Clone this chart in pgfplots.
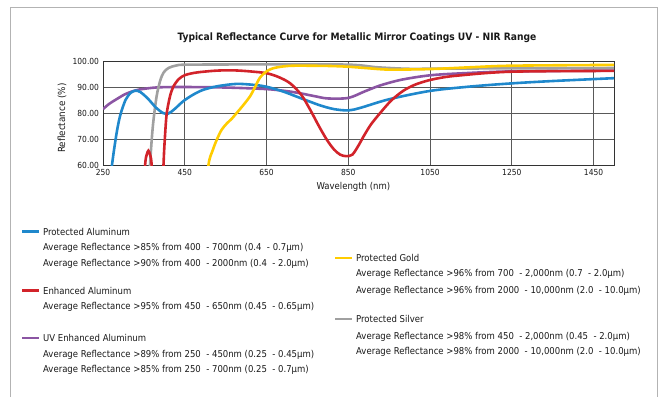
\documentclass[border=0pt]{standalone}
\usepackage{fontspec}
\setmainfont{DejaVu Sans Condensed}[BoldFont={DejaVu Sans Condensed Bold}]
\usepackage{pgfplots}
\pgfplotsset{compat=1.18}
\definecolor{cblue}{RGB}{31,136,204}
\definecolor{cred}{RGB}{210,35,42}
\definecolor{cpurple}{RGB}{139,85,163}
\definecolor{cyellow}{RGB}{255,204,0}
\definecolor{cgray}{RGB}{160,160,160}
\definecolor{ctext}{RGB}{25,25,25}
\begin{document}
\begin{tikzpicture}[x=1bp,y=1bp]
\useasboundingbox (0,0) rectangle (661,-397);
\draw[cgray!80, line width=1bp] (10,-397) -- (10,-7) -- (657,-7) -- (657,-397);
\begin{axis}[
  at={(103bp,-165bp)}, anchor=south west,
  scale only axis, width=511bp, height=104bp,
  xmin=250, xmax=1500, ymin=60, ymax=100,
  xtick={250,450,650,850,1050,1250,1450},
  ytick={60,70,80,90,100},
  major tick length=0pt,
  grid=major,
  grid style={line width=0.9bp, black!65},
  axis line style={line width=1bp, black!80},
  /pgf/number format/assume math mode=true,
  /pgf/number format/set thousands separator={},
  yticklabel={\pgfmathprintnumber[fixed,fixed zerofill,precision=2]{\tick}},
  xticklabel style={font=\fontsize{8.4}{9}\selectfont, text=ctext, yshift=-0.5bp},
  yticklabel style={font=\fontsize{8.4}{9}\selectfont, text=ctext, xshift=-0.5bp},
  title={Typical Reflectance Curve for Metallic Mirror Coatings UV - NIR Range},
  title style={font=\bfseries\fontsize{10.2}{11}\selectfont, text=ctext, at={(axis description cs:0.497,1.0)}, anchor=center, yshift=17bp},
  xlabel={Wavelength (nm)},
  xlabel style={font=\fontsize{9.5}{10}\selectfont, text=ctext, at={(axis description cs:0.49,-0.21)}, anchor=center},
  ylabel={Reflectance (\%)},
  ylabel style={font=\fontsize{9.8}{10}\selectfont, text=ctext, at={(axis description cs:-0.08,0.45)}, anchor=center, rotate=0},
  every axis plot/.append style={line width=2.6bp, smooth},
]
% UV Enhanced Aluminum
\addplot[cpurple] coordinates {(250,81.5) (265,83.5) (283,85.3) (305,87.3) (332,88.8) (360,89.5) (390,89.9) (450,90) (550,89.8) (650,89.2) (700,88.4) (732,87.6) (770,86.4) (800,85.6) (850,85.8) (890,88.3) (928,90.6) (980,92.8) (1050,94.5) (1132,95.3) (1250,96.0) (1500,96.3)};
% Protected Silver
\addplot[cgray] coordinates {(355,30) (365,60) (372,75) (381,86.3) (390,92.5) (398,95.5) (410,97.3) (430,98.3) (460,98.6) (650,98.7) (850,98.6) (920,97.6) (1000,97.0) (1100,97.1) (1500,97.3)};
% Protected Aluminum
\addplot[cblue] coordinates {(262,45) (272,60) (283,72) (292,79) (305,85) (318,87.8) (330,88.6) (342,88.0) (360,85.5) (380,82) (397,80) (410,79.8) (425,81.5) (446,84.5) (470,87) (495,88.9) (530,90.3) (577,91.2) (620,90.8) (650,90.1) (690,88.3) (732,85.8) (780,83) (815,81.5) (850,81) (880,82) (950,85.3) (1050,88.5) (1150,90.2) (1250,91.4) (1350,92.3) (1500,93.4)};
% Enhanced Aluminum
\addplot[cred] coordinates {(345,40) (353,60) (357,64) (361,65.5) (365,64) (369,60) (375,40)};
\addplot[cred] coordinates {(392,30) (398,60) (402,72) (406,80) (414,86.5) (422,90.1) (435,93) (451,94.6) (480,95.6) (528,96.3) (570,96.4) (610,96) (650,95.3) (680,93.8) (708,91.4) (735,87) (757,81.2) (778,75) (798,69.6) (815,66) (830,64) (845,63.4) (860,64) (875,67.5) (887,70.9) (905,75.5) (928,80) (955,84.8) (985,88.6) (1015,91) (1050,92.7) (1090,93.9) (1132,94.6) (1190,95.4) (1250,95.9) (1350,96.1) (1500,96.2)};
% Protected Gold
\addplot[cyellow] coordinates {(495,40) (508,60) (518,65.5) (528,69.6) (540,73.5) (553,76) (565,77.8) (577,80) (593,83) (610,86.5) (622,90) (634,93.6) (650,96) (666,97.2) (690,97.9) (720,98.2) (800,98.1) (850,97.8) (900,97.2) (950,96.7) (1050,96.9) (1150,97.6) (1250,98.2) (1500,98.5)};
\end{axis}
\tikzset{lg/.style={anchor=west, inner sep=0pt, text=ctext, font=\fontsize{9.5}{10}\selectfont}}
% left column
\draw[cblue, line width=2.5bp] (22,-231.5) -- (39,-231.5);
\node[lg] at (43,-231.5) {Protected Aluminum};
\node[lg] at (43,-248) {Average Reflectance >85\% from 400\ \ - 700nm (0.4\ \ - 0.7µm)};
\node[lg] at (43,-263.5) {Average Reflectance >90\% from 400\ \ - 2000nm (0.4\ \ - 2.0µm)};
\draw[cred, line width=2.5bp] (22,-290.5) -- (39,-290.5);
\node[lg] at (43,-290.5) {Enhanced Aluminum};
\node[lg] at (43,-307) {Average Reflectance >95\% from 450\ \ - 650nm (0.45\ \ - 0.65µm)};
\draw[cpurple, line width=2.5bp] (22,-338) -- (39,-338);
\node[lg] at (43,-338) {UV Enhanced Aluminum};
\node[lg] at (43,-354.5) {Average Reflectance >89\% from 250\ \ - 450nm (0.25\ \ - 0.45µm)};
\node[lg] at (43,-370) {Average Reflectance >85\% from 250\ \ - 700nm (0.25\ \ - 0.7µm)};
% right column
\draw[cyellow, line width=2.5bp] (335,-258) -- (352,-258);
\node[lg] at (356,-258) {Protected Gold};
\node[lg] at (356,-274) {Average Reflectance >96\% from 700\ \ - 2,000nm (0.7\ \ - 2.0µm)};
\node[lg] at (356,-291) {Average Reflectance >96\% from 2000\ \ - 10,000nm (2.0\ \ - 10.0µm)};
\draw[cgray, line width=2.5bp] (335,-319) -- (352,-319);
\node[lg] at (356,-319) {Protected Silver};
\node[lg] at (356,-336.5) {Average Reflectance >98\% from 450\ \ - 2,000nm (0.45\ \ - 2.0µm)};
\node[lg] at (356,-352) {Average Reflectance >98\% from 2000\ \ - 10,000nm (2.0\ \ - 10.0µm)};
\end{tikzpicture}
\end{document}
